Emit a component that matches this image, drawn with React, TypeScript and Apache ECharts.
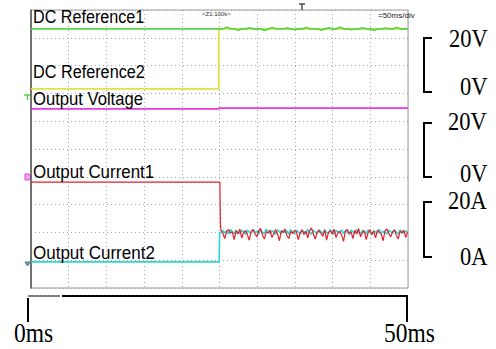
import React, { useEffect, useRef } from "react";
import * as echarts from "echarts";

// ---- axes (time in ms, vertical in screen divisions) ----
const timeMin = 0;
const timeMax = 50;
const timeInterval = 5;
const divMin = 0;
const divMax = 10;
const divInterval = 1;

// ---- step event ----
const stepTimeMs = 24.9;

// ---- trace levels (divisions) ----
const dcRef1Level = 9.32;
const dcRef2Before = 7.16;
const voltBefore = 6.44;
const voltAfter = 6.47;
const current1Before = 3.81;
const current1Drop = 2.27;
const current2Before = 0.94;

// DC Reference1 after step (every 0.5 ms from 25 ms)
const dcRef1After = [
  9.32, 9.32, 9.38, 9.32, 9.32, 9.28, 9.32, 9.32, 9.36, 9.32,
  9.32, 9.32, 9.27, 9.32, 9.37, 9.32, 9.32, 9.32, 9.35, 9.32,
  9.29, 9.32, 9.32, 9.37, 9.32, 9.32, 9.32, 9.28, 9.32, 9.36,
  9.32, 9.32, 9.38, 9.32, 9.32, 9.29, 9.32, 9.32, 9.36, 9.32,
  9.32, 9.27, 9.32, 9.32, 9.35, 9.32, 9.32, 9.37, 9.32, 9.32,
];

// Output Current1 ripple after step (every 0.25 ms from 25.2 ms)
const current1After = [
  2.08, 1.96, 1.78, 2.04, 2.1, 1.98, 2.02, 1.74, 2.06, 1.94,
  2.12, 1.8, 2.0, 2.06, 1.92, 1.72, 2.04, 2.1, 1.96, 1.84,
  2.06, 2.14, 1.9, 1.76, 2.02, 1.98, 2.08, 1.82, 1.96, 2.1,
  1.94, 1.7, 2.06, 2.0, 2.12, 1.88, 1.78, 2.04, 1.96, 2.08,
  2.02, 1.74, 1.98, 2.1, 1.92, 2.04, 1.8, 2.06, 2.16, 1.94,
  1.76, 2.02, 2.08, 1.96, 1.86, 2.1, 1.72, 2.0, 2.06, 1.94,
  2.12, 1.82, 1.98, 2.04, 1.9, 1.68, 2.06, 2.1, 1.96, 2.02,
  1.78, 2.08, 1.94, 2.14, 1.84, 2.0, 2.06, 1.74, 1.98, 2.1,
  1.92, 2.04, 1.8, 2.08, 2.0, 1.94, 1.7, 2.06, 2.12, 1.96,
  1.84, 2.02, 2.1, 1.9, 1.76, 2.04, 1.98, 2.08, 1.82, 2.02,
];

// Output Current2 ripple after step (every 0.25 ms from 25.2 ms)
const current2After = [
  2.0, 2.08, 1.98, 2.06, 1.94, 2.1, 2.02, 1.96, 2.08, 2.0,
  1.95, 2.07, 2.03, 1.93, 2.09, 2.01, 1.97, 2.1, 1.99, 2.04,
  1.94, 2.08, 2.0, 1.96, 2.11, 2.02, 1.95, 2.06, 2.01, 1.93,
  2.09, 2.03, 1.97, 2.07, 1.98, 2.05, 1.94, 2.1, 2.0, 1.96,
  2.08, 2.02, 1.95, 2.06, 2.03, 1.97, 2.11, 1.99, 1.94, 2.07,
  2.01, 1.96, 2.09, 2.04, 1.95, 2.08, 2.0, 1.97, 2.1, 2.02,
  1.94, 2.06, 2.03, 1.98, 2.09, 1.96, 2.05, 2.01, 1.93, 2.08,
  2.02, 1.97, 2.1, 2.0, 1.95, 2.07, 2.03, 1.96, 2.09, 2.01,
  1.94, 2.06, 2.02, 1.98, 2.11, 1.97, 2.04, 2.0, 1.95, 2.08,
  2.03, 1.96, 2.07, 2.01, 1.94, 2.09, 2.02, 1.97, 2.06, 2.0,
];

const rippleStart = 25.2;
const rippleDt = 0.25;
const ref1Start = 25.0;
const ref1Dt = 0.5;

// ---- labels ----
const traceLabels = ["DC Reference1", "DC Reference2", "Output Voltage", "Output Current1", "Output Current2"];
const traceLabelBaselines = [24, 79, 106, 179, 260];
const scaleLabels = ["20V", "0V", "20V", "0V", "20A", "0A"];
const timeLabels = ["0ms", "50ms"];

export default function App() {
  const ref = useRef<HTMLDivElement>(null);
  useEffect(() => {
    if (!ref.current) return;
    const chart = echarts.init(ref.current, undefined, { renderer: "svg" });

    const green: number[][] = [[timeMin, dcRef1Level], [stepTimeMs, dcRef1Level]];
    dcRef1After.forEach((v, i) => green.push([ref1Start + i * ref1Dt, v]));
    green.push([timeMax, dcRef1Level]);

    const yellow = [[timeMin, dcRef2Before], [stepTimeMs, dcRef2Before], [stepTimeMs, dcRef1Level], [timeMax, dcRef1Level]];
    const magenta = [[timeMin, voltBefore], [stepTimeMs, voltBefore], [stepTimeMs + 0.05, voltAfter], [timeMax, voltAfter]];

    const red: number[][] = [[timeMin, current1Before], [25.05, current1Before], [25.12, current1Drop]];
    current1After.forEach((v, i) => red.push([rippleStart + i * rippleDt, v]));

    const cyan: number[][] = [[timeMin, current2Before], [24.95, current2Before], [25.02, 2.0]];
    current2After.forEach((v, i) => cyan.push([rippleStart + i * rippleDt, v]));

    const sans = "'Liberation Sans', Arial, sans-serif";
    const serif = "'Liberation Serif', 'Times New Roman', serif";

    const graphics: any[] = [];
    const labelScale = [0.85, 0.855, 0.875, 0.89, 0.895];
    traceLabels.forEach((t, i) => {
      graphics.push({
        type: "text",
        x: 33,
        y: traceLabelBaselines[i] - 7,
        scaleX: labelScale[i],
        z: 100,
        style: { text: t, font: `19px ${sans}`, fill: "#000", verticalAlign: "middle", textAlign: "left" },
      });
    });

    const scaleX = [449, 460, 448, 460, 448, 460];
    const scaleY = [38.5, 86.5, 121.5, 173.5, 200.5, 256.5];
    scaleLabels.forEach((t, i) => {
      graphics.push({
        type: "text",
        x: scaleX[i],
        y: scaleY[i],
        scaleX: 0.9,
        style: { text: t, font: `25px ${serif}`, fill: "#000", verticalAlign: "middle", textAlign: "left" },
      });
    });
    const brackets = [[38, 92], [123, 177], [202, 257]];
    brackets.forEach(([a, b]) => {
      graphics.push({
        type: "polyline",
        shape: { points: [[432, a], [424, a], [424, b], [432, b]] },
        style: { stroke: "#000", lineWidth: 2, fill: "none" },
      });
    });

    // bottom time bracket
    graphics.push({ type: "line", shape: { x1: 28, y1: 296, x2: 60, y2: 296 }, style: { stroke: "#000", lineWidth: 1 } });
    graphics.push({ type: "line", shape: { x1: 62, y1: 296, x2: 408, y2: 296 }, style: { stroke: "#000", lineWidth: 2 } });
    graphics.push({ type: "line", shape: { x1: 28, y1: 298, x2: 28, y2: 322 }, style: { stroke: "#000", lineWidth: 2 } });
    graphics.push({ type: "line", shape: { x1: 407, y1: 296, x2: 407, y2: 322 }, style: { stroke: "#000", lineWidth: 2 } });
    const timeX = [14, 384];
    timeLabels.forEach((t, i) => {
      graphics.push({
        type: "text",
        x: timeX[i],
        y: 332,
        scaleX: 0.87,
        style: { text: t, font: `27px ${serif}`, fill: "#000", verticalAlign: "middle", textAlign: "left" },
      });
    });

    // scope annotations
    graphics.push({ type: "text", x: 202, y: 14, style: { text: "<Z1:100k>", font: `6px ${sans}`, fill: "#333", verticalAlign: "middle" } });
    graphics.push({ type: "text", x: 378, y: 15, z: 100, style: { text: "=50ms/div", font: `8px ${sans}`, fill: "#222", verticalAlign: "middle" } });
    graphics.push({ type: "polyline", shape: { points: [[299, 4], [305, 4]] }, style: { stroke: "#000", lineWidth: 1 } });
    graphics.push({ type: "polyline", shape: { points: [[302, 4], [302, 10]] }, style: { stroke: "#000", lineWidth: 1 } });
    // left channel markers
    graphics.push({ type: "polyline", shape: { points: [[24, 95], [31, 95]] }, style: { stroke: "#55d645", lineWidth: 1.5 } });
    graphics.push({ type: "polyline", shape: { points: [[27.5, 95], [27.5, 100]] }, style: { stroke: "#55d645", lineWidth: 1.5 } });
    graphics.push({
      type: "polygon",
      shape: { points: [[25, 174], [29, 174], [31, 177], [29, 180], [25, 180]] },
      style: { fill: "#f3a0ef", stroke: "#e83ae0", lineWidth: 1 },
    });
    graphics.push({
      type: "polygon",
      shape: { points: [[25, 262], [30, 262], [27.5, 266]] },
      style: { fill: "#30c8c8", stroke: "#555", lineWidth: 0.8 },
    });

    const lineSeries = (name: string, data: number[][], color: string, width: number, z: number) => ({
      name,
      type: "line",
      data,
      showSymbol: false,
      symbol: "none",
      z,
      lineStyle: { color, width },
      itemStyle: { color },
    });

    chart.setOption({
      animation: false,
      grid: {
        left: 31,
        top: 10,
        width: 377,
        height: 278,
        show: true,
        borderColor: "#9a9a9a",
        borderWidth: 1,
      },
      xAxis: {
        type: "value",
        min: timeMin,
        max: timeMax,
        interval: timeInterval,
        axisLine: { show: false },
        axisTick: { show: false },
        axisLabel: { show: false },
        splitLine: { show: true, lineStyle: { color: "#a8a8a8", width: 1, type: [1, 3] } },
      },
      yAxis: {
        type: "value",
        min: divMin,
        max: divMax,
        interval: divInterval,
        axisLine: { show: true, onZero: false, lineStyle: { color: "#555", width: 1.5 } },
        axisTick: { show: false },
        axisLabel: { show: false },
        splitLine: { show: true, lineStyle: { color: "#a8a8a8", width: 1, type: [1, 3] } },
      },
      series: [
        lineSeries("DC Reference2", yellow, "#e4e04a", 1.8, 2),
        lineSeries("DC Reference1", green, "#55d645", 1.8, 3),
        lineSeries("Output Voltage", magenta, "#e83ae0", 1.8, 3),
        lineSeries("Output Current2", cyan, "#2fd6d6", 1.6, 3),
        lineSeries("Output Current1", red, "#e0202a", 1.2, 4),
      ],
      graphic: graphics,
    });
    return () => chart.dispose();
  }, []);
  return <div ref={ref} style={{ position: "absolute", left: 0, top: 0, width: 496, height: 349 }} />;
}
